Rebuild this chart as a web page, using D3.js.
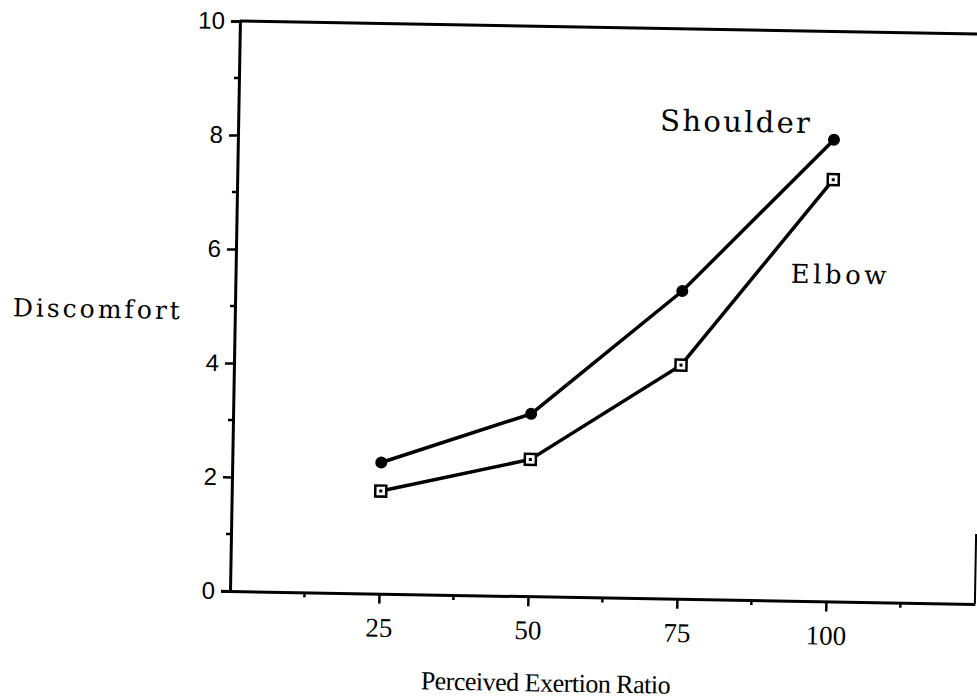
<!DOCTYPE html>
<html>
<head>
<meta charset="utf-8">
<script src="https://cdnjs.cloudflare.com/ajax/libs/d3/7.8.5/d3.min.js"></script>
<style>
body{margin:0;background:#fff;}
</style>
</head>
<body>
<svg id="chart" width="977" height="700"></svg>
<script>
var xValues=[25,50,75,100];
var shoulder=[2.3,3.2,5.4,8.1];
var elbow=[1.8,2.4,4.1,7.4];
var yTicks=[0,2,4,6,8,10];
var xTicks=[25,50,75,100];

// the scanned page is turned about one degree, so the whole chart is too
var svg=d3.select('#chart').append('g').attr('transform','rotate(1,230,591)');
var x=d3.scaleLinear().domain([0,125]).range([230,975]);
var y=d3.scaleLinear().domain([0,10]).range([591,21]);

// frame: top line, bit of right border
svg.append('line').attr('x1',x(0)).attr('x2',1000).attr('y1',y(10)).attr('y2',y(10))
  .attr('stroke','#000').attr('stroke-width',3);
svg.append('line').attr('x1',x(125)).attr('x2',x(125)).attr('y1',y(0)-70).attr('y2',y(0))
  .attr('stroke','#000').attr('stroke-width',2);

var yAxis=d3.axisLeft(y).tickValues(yTicks).tickSize(9).tickPadding(6).tickFormat(d3.format('d'));
var gy=svg.append('g').attr('transform','translate('+x(0)+',0)').call(yAxis);
gy.attr('font-size',null).attr('font-family',null);
gy.select('.domain').attr('stroke-width',3);
gy.selectAll('.tick line').attr('stroke-width',2.5);
gy.selectAll('.tick text').style('font-family','Liberation Sans, Arial, sans-serif').style('font-size','24px').attr('fill','#000');
// minor y ticks
gy.selectAll('.minor').data([1,3,5,7,9]).enter().append('line')
  .attr('x1',-5).attr('x2',0).attr('y1',d=>y(d)).attr('y2',d=>y(d))
  .attr('stroke','#000').attr('stroke-width',2.5);

var xAxis=d3.axisBottom(x).tickValues(xTicks).tickSize(10).tickPadding(14).tickSizeOuter(0);
var gx=svg.append('g').attr('transform','translate(0,'+y(0)+')').call(xAxis);
gx.attr('font-size',null).attr('font-family',null);
gx.select('.domain').attr('stroke-width',3);
gx.selectAll('.tick line').attr('stroke-width',2.5);
gx.selectAll('.tick text').style('font-family','Liberation Serif, Times New Roman, serif').style('font-size','27px').attr('fill','#000');
gx.selectAll('.minor').data([12.5,37.5,62.5,87.5,112.5]).enter().append('line')
  .attr('x1',d=>x(d)).attr('x2',d=>x(d)).attr('y1',0).attr('y2',5)
  .attr('stroke','#000').attr('stroke-width',2.5);

var line=d3.line().x((d,i)=>x(xValues[i])).y(d=>y(d));
svg.append('path').datum(shoulder).attr('d',line).attr('fill','none').attr('stroke','#000').attr('stroke-width',3.5);
svg.append('path').datum(elbow).attr('d',line).attr('fill','none').attr('stroke','#000').attr('stroke-width',3.5);

svg.selectAll('.sh').data(shoulder).enter().append('circle')
  .attr('cx',(d,i)=>x(xValues[i])).attr('cy',d=>y(d)).attr('r',6).attr('fill','#000');

var el=svg.selectAll('.el').data(elbow).enter().append('g')
  .attr('transform',(d,i)=>'translate('+x(xValues[i])+','+y(d)+')');
el.append('rect').attr('x',-5.5).attr('y',-5.5).attr('width',11).attr('height',11)
  .attr('fill','#fff').attr('stroke','#000').attr('stroke-width',2.5);
el.append('rect').attr('x',-1.5).attr('y',-1.5).attr('width',3).attr('height',3).attr('fill','#000');

function label(t,px,py,size,ls){
  return svg.append('text').attr('x',px).attr('y',py).text(t)
    .style('font-family','DejaVu Serif, serif').style('font-size',size+'px')
    .style('letter-spacing',ls+'px');
}
label('Discomfort',8,320,25,3);
label('Shoulder',652,123,29,2.3);
label('Elbow',785,273,26,3.5);

svg.append('text').attr('x',547).attr('y',686).attr('text-anchor','middle')
  .style('font-family','Liberation Serif, Times New Roman, serif').style('font-size','26px')
  .style('letter-spacing','-0.5px')
  .text('Perceived Exertion Ratio');
</script>
</body>
</html>
